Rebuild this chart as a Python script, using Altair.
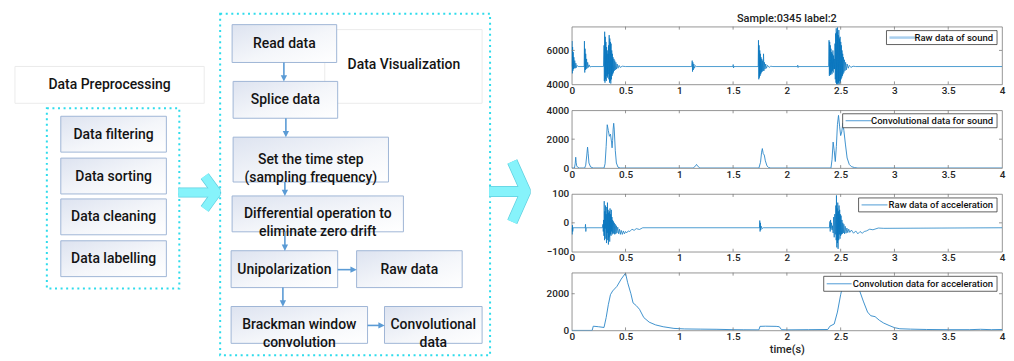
import altair as alt
import pandas as pd

# ---------------- content ----------------
pre_title = "Data Preprocessing"
pre_steps = ["Data filtering", "Data sorting", "Data cleaning", "Data labelling"]
vis_title = "Data Visualization"
vis_steps = ["Read data", "Splice data", "Set the time step\n(sampling frequency)",
             "Differential operation to\neliminate zero drift", "Unipolarization",
             "Raw data", "Brackman window\nconvolution", "Convolutional\ndata"]
plot_title = "Sample:0345 label:2"
series_names = ["Raw data of sound", "Convolutional data for sound",
                "Raw data of acceleration", "Convolution data for acceleration"]
x_tick_values = [0, 0.5, 1, 1.5, 2, 2.5, 3, 3.5, 4]
x_axis_title = "time(s)"

# raw sound (per burst)
snd_a_t = [0.000, 0.002, 0.005, 0.008, 0.011, 0.014, 0.017, 0.020, 0.024, 0.028, 0.033, 0.038, 0.044, 0.050, 0.060]
snd_a_v = [5050, 6550, 4650, 6200, 4800, 5900, 4900, 5600, 4950, 5400, 4950, 5250, 4990, 5120, 5050]
snd_b_t = [0.115, 0.118, 0.121, 0.124, 0.127, 0.130, 0.134, 0.138, 0.143, 0.148, 0.155, 0.162, 0.170, 0.180]
snd_b_v = [5050, 6550, 4700, 6100, 4850, 5800, 4900, 5500, 4950, 5300, 5000, 5150, 5020, 5050]
snd_c_t = [0.295, 0.300, 0.303, 0.306, 0.309, 0.312, 0.315, 0.318, 0.321, 0.324, 0.327, 0.330, 0.333, 0.336,
           0.339, 0.342, 0.345, 0.348, 0.351, 0.354, 0.357, 0.360, 0.363, 0.366, 0.369, 0.372, 0.375, 0.378,
           0.381, 0.384, 0.388, 0.392, 0.396, 0.400, 0.405, 0.410, 0.416, 0.422, 0.430, 0.440, 0.450, 0.470, 0.500]
snd_c_v = [5050, 6300, 4200, 7100, 4100, 6800, 4300, 6500, 4200, 6200, 4500, 6000, 4400, 5800,
           4600, 6300, 4300, 6900, 4100, 6700, 4200, 6500, 4050, 6400, 4300, 6000, 4500, 5800,
           4600, 5600, 4700, 5500, 4800, 5400, 4850, 5300, 4900, 5200, 4950, 5120, 5000, 5070, 5050]
snd_d_t = [1.115, 1.120, 1.123, 1.126, 1.130, 1.135, 1.140, 1.150, 1.160,
           1.498, 1.501, 1.504, 1.508]
snd_d_v = [5050, 5400, 4750, 5300, 4850, 5200, 4950, 5100, 5050,
           5050, 5170, 4970, 5050]
snd_e_t = [1.733, 1.736, 1.739, 1.742, 1.745, 1.748, 1.751, 1.754, 1.757, 1.760, 1.763, 1.767, 1.771,
           1.775, 1.779, 1.783, 1.787, 1.791, 1.797, 1.803, 1.810, 1.820, 1.835, 1.850, 1.870,
           2.098, 2.101, 2.104, 2.108]
snd_e_v = [5050, 6600, 4300, 6300, 4400, 6000, 4500, 5800, 4600, 5600, 4700, 5500, 4750,
           5400, 4800, 5800, 4800, 5300, 4900, 5200, 4950, 5120, 5000, 5070, 5050,
           5050, 5130, 4990, 5050]
snd_f_t = [2.388, 2.392, 2.395, 2.398, 2.401, 2.404, 2.407, 2.410, 2.413, 2.416, 2.419, 2.422, 2.425, 2.428,
           2.431, 2.434, 2.437, 2.440, 2.443, 2.447, 2.450, 2.453, 2.456, 2.459, 2.462, 2.465, 2.468, 2.471,
           2.474, 2.477, 2.480, 2.483, 2.486, 2.489, 2.492, 2.495, 2.498, 2.501, 2.504, 2.507, 2.510, 2.513,
           2.516, 2.519, 2.522, 2.526, 2.530, 2.535, 2.540, 2.546, 2.552, 2.560, 2.570, 2.580, 2.595, 2.615,
           2.640, 4.000]
snd_f_v = [5050, 6600, 4500, 6500, 4600, 6300, 4550, 6100, 4700, 5900, 4600, 5800, 4800, 6000,
           4700, 5700, 4900, 5500, 4900, 6400, 4300, 7000, 4100, 7300, 4000, 7100, 4050, 7350,
           3980, 6900, 4100, 7200, 4000, 6700, 4200, 6800, 4100, 6500, 4300, 6300, 4400, 6000,
           4500, 5800, 4600, 5600, 4700, 5450, 4800, 5300, 4850, 5200, 4950, 5120, 5000, 5070,
           5050, 5050]

# convolutional sound
snd_conv_t = [0, 0.025, 0.032, 0.037, 0.041, 0.046, 0.055, 0.07, 0.12, 0.13, 0.14, 0.147, 0.153, 0.16,
              0.175, 0.2, 0.3, 0.31, 0.32, 0.33, 0.34, 0.35, 0.36, 0.37, 0.375, 0.38, 0.385, 0.39, 0.395,
              0.405, 0.415, 0.43, 0.45, 1.13, 1.15, 1.16, 1.17, 1.19, 1.74, 1.755, 1.765, 1.772, 1.78,
              1.79, 1.80, 1.815, 1.83, 1.85, 2.41, 2.42, 2.43, 2.44, 2.45, 2.46, 2.47, 2.48, 2.49, 2.50,
              2.51, 2.52, 2.53, 2.545, 2.56, 2.58, 2.60, 2.63, 2.66, 4.0]
snd_conv_v = [0, 0, 300, 750, 400, 150, 60, 0, 0, 200, 900, 1450, 1000, 350,
              80, 0, 0, 300, 1500, 3000, 2600, 2200, 2350, 1800, 1400, 1900, 2700, 3100, 2700,
              1200, 350, 60, 0, 0, 150, 250, 150, 0, 0, 400, 1100, 1350, 1000,
              900, 500, 150, 40, 0, 0, 600, 1800, 1200, 450, 1500, 3000, 3650, 2900, 2250,
              2500, 3100, 2600, 1600, 700, 250, 100, 30, 0, 0]

# raw acceleration (per burst)
acc_a_t = [0.000, 0.003, 0.006, 0.009, 0.013, 0.125, 0.128, 0.131, 0.134]
acc_a_v = [-17, -40, -8, -30, -17, -17, -5, -30, -17]
acc_b_t = [0.285, 0.290, 0.293, 0.296, 0.299, 0.302, 0.305, 0.308, 0.311, 0.314, 0.317, 0.320, 0.323, 0.326,
           0.329, 0.332, 0.335, 0.338, 0.341, 0.344, 0.347, 0.350, 0.353, 0.356, 0.359, 0.362, 0.365, 0.368,
           0.371, 0.374, 0.377, 0.380, 0.384, 0.388, 0.392, 0.396, 0.400, 0.405, 0.410, 0.415, 0.420, 0.428,
           0.436, 0.444, 0.452, 0.460, 0.470, 0.480, 0.490, 0.500, 0.510, 0.525, 0.540, 0.560, 0.580, 0.600,
           0.630, 0.660]
acc_b_v = [-17, -5, -30, 10, -45, 75, -60, 40, -20, 60, -55, 30, -70, 55,
           -35, 70, -60, 45, -75, 35, -50, 40, -65, 50, -40, 30, -45, 45,
           -30, 20, -40, 10, -35, 5, -38, 0, -40, -5, -38, -10, -35, -15,
           -38, -22, -40, -26, -40, -28, -38, -30, -35, -28, -30, -22, -26, -20,
           -23, -17]
acc_c_t = [1.745, 1.748, 1.751, 1.754, 1.757, 1.762, 1.770, 1.780]
acc_c_v = [-17, 8, -30, 0, -25, -12, -20, -17]
acc_d_t = [2.395, 2.400, 2.403, 2.406, 2.410, 2.415, 2.420, 2.425, 2.430, 2.435, 2.440, 2.445, 2.450, 2.455,
           2.458, 2.461, 2.464, 2.467, 2.470, 2.473, 2.476, 2.479, 2.482, 2.485, 2.488, 2.491, 2.494, 2.497,
           2.500, 2.504, 2.508, 2.512, 2.516, 2.520, 2.525, 2.530, 2.536, 2.542, 2.550, 2.558, 2.566, 2.575,
           2.585, 2.600, 2.620, 2.640, 2.660, 2.680, 2.700, 2.720, 2.740, 2.770, 2.800, 2.850, 2.900, 4.000]
acc_d_v = [-17, 5, -30, 10, -20, 0, -25, -10, -35, 20, -50, 30, -40, 60,
           -60, 95, -85, 50, -70, 70, -90, 40, -60, 60, -40, 45, -55, 30,
           -45, 25, -40, 10, -38, 0, -35, -5, -38, -12, -36, -18, -34, -22,
           -33, -25, -36, -28, -38, -30, -36, -30, -28, -22, -24, -18, -19, -17]

# convolution acceleration
acc_conv_t = [0, 0.19, 0.2, 0.25, 0.3, 0.32, 0.34, 0.36, 0.38, 0.42, 0.46, 0.5, 0.52, 0.55, 0.57, 0.6,
              0.63, 0.67, 0.72, 0.78, 0.85, 0.95, 1.05, 1.2, 1.35, 1.5, 1.6, 1.74, 1.75, 1.8, 1.9, 1.93,
              1.95, 2.0, 2.2, 2.38, 2.40, 2.44, 2.47, 2.5, 2.53, 2.56, 2.6, 2.64, 2.68, 2.71, 2.75, 2.78,
              2.82, 2.86, 2.9, 2.95, 3.0, 3.05, 3.15, 3.3, 3.5, 3.7, 3.8, 3.9, 4.0]
acc_conv_v = [0, 0, 230, 200, 160, 700, 1400, 1950, 2150, 2400, 2800, 3120, 2600, 2000, 1500, 1350,
              1150, 700, 450, 300, 200, 110, 80, 70, 60, 40, 35, 30, 220, 230, 220, 200,
              40, 30, 40, 50, 230, 350, 1000, 1950, 2700, 2850, 2900, 2650, 2100, 1600, 1000, 800,
              750, 550, 400, 270, 150, 90, 70, 50, 40, 40, 60, 40, 50]

sound_raw_t = snd_a_t + snd_b_t + snd_c_t + snd_d_t + snd_e_t + snd_f_t
sound_raw_v = snd_a_v + snd_b_v + snd_c_v + snd_d_v + snd_e_v + snd_f_v
acc_raw_t = acc_a_t + acc_b_t + acc_c_t + acc_d_t
acc_raw_v = acc_a_v + acc_b_v + acc_c_v + acc_d_v

# ---------------- layout / style ----------------
FONT = "Roboto"
TXT = "#141414"
DOT = "#2fdcec"
LINK = "#5b9bd5"
ARROW_FILL = "#86f3fb"
ARROW_EDGE = "#5fcfdf"
BOX_EDGE = "#9fb5d6"
FRAME = "#7a7a7a"
LINE = "#0072BD"

FLOW_TOP = 25            # page y of the flow panel's origin (aligned with first plot top)
FLOW_W, FLOW_H = 533, 330
Y_EXT = 30
PW, PH = 432, 58

layout_anchor = (8, 8, 9, 9)      # invisible: fixes the space reserved above the first plot
pre_title_box = (14, 65, 204, 102)
pre_group_box = (46, 107, 179, 288)
pre_step_boxes = [(60, 115, 166, 151), (60, 157, 166, 193), (60, 198, 166, 234), (60, 240, 166, 276)]
vis_title_box = (325, 28, 483, 102)
vis_title_pos = (404.5, 64)
vis_group_box = (220, 12, 491, 355)
vis_step_boxes = [(232, 23, 337, 61), (233, 80, 338, 117), (233, 136, 389, 181), (232, 195, 404, 231),
                  (231, 250, 338, 287), (357, 250, 463, 287), (231, 306, 368, 343), (385, 306, 483, 343)]
links = [(284, 61, 284, 80, "d"), (286, 117, 286, 136, "d"), (285, 181, 285, 195, "d"),
         (285, 231, 285, 250, "d"), (283, 287, 283, 306, "d"), (338, 269, 357, 269, "r"),
         (368, 325, 385, 325, "r")]
# big block arrows: shaft (x0, x1, y), chevron points, thickness
big_arrows = [
    ((178, 213, 191.5), [(204.5, 175), (216.5, 191.5), (204.5, 208)], 8.5),
    ((490, 523, 190.5), [(513.3, 160.5), (526.8, 190.5), (513.3, 221)], 9.5),
]
# legends: box x0, x1, y0, y1 (panel px), sample x0, x1, sample colour, sample width
legend_geo = [
    (316, 427, 4, 18, 319, 346, "#a9cfee", 2.5),
    (272, 427, 3.5, 17.5, 275, 301, "#4f9bd6", 1),
    (288, 427, 4, 18, 291, 317, "#4f9bd6", 1),
    (253, 427, 3.7, 18.7, 256, 281, "#4f9bd6", 1),
]

FX = alt.Scale(domain=[8, 8 + FLOW_W], nice=False, zero=False)
FY = alt.Scale(domain=[FLOW_TOP, FLOW_TOP + FLOW_H], nice=False, zero=False, reverse=True)


def fx(f="x"):
    return alt.X(f + ":Q", scale=FX, axis=None)


def fy(f="y"):
    return alt.Y(f + ":Q", scale=FY, axis=None)


def box_df(boxes):
    return pd.DataFrame([{"x": a, "y": b, "x2": c, "y2": d} for a, b, c, d in boxes])


def rects(boxes, **mk):
    return alt.Chart(box_df(boxes)).mark_rect(**mk).encode(
        x=fx(), x2="x2:Q", y=fy(), y2="y2:Q")


grad = {"gradient": "linear", "x1": 0, "y1": 0, "x2": 1, "y2": 1,
        "stops": [{"offset": 0, "color": "#dde3f0"}, {"offset": 0.55, "color": "#f4f6fa"},
                  {"offset": 1, "color": "#ffffff"}]}

anchor = rects([layout_anchor], fill="transparent")
title_boxes = rects([pre_title_box, vis_title_box], fill="white", stroke="#ebebeb", strokeWidth=1)
group_boxes = rects([pre_group_box, vis_group_box], fill="transparent", stroke=DOT,
                    strokeWidth=2, strokeDash=[2, 3.6])
step_boxes = rects(pre_step_boxes + vis_step_boxes, fill=grad, stroke=BOX_EDGE, strokeWidth=1)

text_rows = [{"x": (pre_title_box[0] + pre_title_box[2]) / 2, "y": (pre_title_box[1] + pre_title_box[3]) / 2,
              "text": pre_title},
             {"x": vis_title_pos[0], "y": vis_title_pos[1], "text": vis_title}]
for lbl, b in zip(pre_steps + vis_steps, pre_step_boxes + vis_step_boxes):
    text_rows.append({"x": (b[0] + b[2]) / 2, "y": (b[1] + b[3]) / 2 + 0.5, "text": lbl})
texts = alt.Chart(pd.DataFrame(text_rows)).mark_text(
    font=FONT, fontSize=14, fontWeight=500, color=TXT, lineBreak="\n", lineHeight=18,
    align="center", baseline="middle").encode(x=fx(), y=fy(), text="text:N")

HEAD = 3
link_rows, head_d, head_r = [], [], []
for x0, y0, x1, y1, d in links:
    if d == "d":
        link_rows.append({"x": x0, "y": y0, "x2": x1, "y2": y1 - HEAD})
        head_d.append({"x": x1, "y": y1 - HEAD})
    else:
        link_rows.append({"x": x0, "y": y0, "x2": x1 - HEAD, "y2": y1})
        head_r.append({"x": x1 - HEAD, "y": y1})
link_lines = alt.Chart(pd.DataFrame(link_rows)).mark_rule(color=LINK, strokeWidth=1.6).encode(
    x=fx(), x2="x2:Q", y=fy(), y2="y2:Q")
heads_d = alt.Chart(pd.DataFrame(head_d)).mark_point(
    shape="M-1,-1L1,-1L0,1Z", filled=True, size=40, color=LINK, opacity=1).encode(x=fx(), y=fy())
heads_r = alt.Chart(pd.DataFrame(head_r)).mark_point(
    shape="M-1,-1L1,0L-1,1Z", filled=True, size=40, color=LINK, opacity=1).encode(x=fx(), y=fy())

arrow_layers = []
for k, ((sx0, sx1, sy), chev, w) in enumerate(big_arrows):
    shaft = pd.DataFrame({"x": [sx0, sx1], "y": [sy, sy], "o": [0, 1]})
    chevron = pd.DataFrame({"x": [p[0] for p in chev], "y": [p[1] for p in chev], "o": [0, 1, 2]})
    for df_ in (shaft, chevron):
        arrow_layers.append(alt.Chart(df_).mark_line(
            color=ARROW_EDGE, strokeWidth=w + 1.4, strokeJoin="bevel", strokeCap="butt").encode(
            x=fx(), y=fy(), order="o:Q"))
    for df_ in (shaft, chevron):
        arrow_layers.append(alt.Chart(df_).mark_line(
            color=ARROW_FILL, strokeWidth=w, strokeJoin="bevel", strokeCap="butt").encode(
            x=fx(), y=fy(), order="o:Q"))

flow = alt.layer(anchor, title_boxes, group_boxes, step_boxes, texts, link_lines, heads_d, heads_r,
                 *arrow_layers).properties(
    width=FLOW_W, height=FLOW_H, view=alt.ViewBackground(stroke="transparent"))

# ---------------- signal panels ----------------
one = pd.DataFrame({"a": [0]})


def panel(t, v, ydom, yvals, name, geo, lw, lcol, first=False, last=False):
    xs = alt.Scale(domain=[0, 4], nice=False, zero=False)
    ys = alt.Scale(domain=ydom, nice=False, zero=False)
    xa = dict(values=x_tick_values, format="~g", ticks=False, domain=False, grid=False,
              labelPadding=1, labelFlush=False)
    if last:
        xa.update(title=x_axis_title, titlePadding=2)
    else:
        xa.update(title="")
    x_axis = alt.Axis(**xa)
    y_axis = alt.Axis(values=yvals, format="d", ticks=False, domain=False, grid=False, labelPadding=3,
                      labelFlush=False, title="", minExtent=Y_EXT, maxExtent=Y_EXT)
    line = alt.Chart(pd.DataFrame({"t": t, "v": v})).mark_line(
        color=lcol, strokeWidth=lw, clip=True).encode(
        x=alt.X("t:Q", scale=xs, axis=x_axis),
        y=alt.Y("v:Q", scale=ys, axis=y_axis))
    inner_x = pd.DataFrame({"t": x_tick_values[1:-1]})
    inner_y = pd.DataFrame({"v": [y for y in yvals if ydom[0] < y < ydom[1]]})
    tk = dict(color=FRAME, strokeWidth=0.8)
    xb = alt.Chart(inner_x).mark_rule(**tk).encode(
        x=alt.X("t:Q", scale=xs, axis=x_axis), y=alt.value(PH), y2=alt.value(PH - 3))
    xt = alt.Chart(inner_x).mark_rule(**tk).encode(
        x=alt.X("t:Q", scale=xs, axis=x_axis), y=alt.value(0), y2=alt.value(3))
    yl = alt.Chart(inner_y).mark_rule(**tk).encode(
        y=alt.Y("v:Q", scale=ys, axis=y_axis), x=alt.value(0), x2=alt.value(3))
    yr = alt.Chart(inner_y).mark_rule(**tk).encode(
        y=alt.Y("v:Q", scale=ys, axis=y_axis), x=alt.value(PW - 3), x2=alt.value(PW))
    bx0, bx1, by0, by1, sx0, sx1, scol, sw = geo
    ym = (by0 + by1) / 2
    lg_box = alt.Chart(one).mark_rect(fill="white", stroke="#3a3a3a", strokeWidth=0.8).encode(
        x=alt.value(bx0), x2=alt.value(bx1), y=alt.value(by0), y2=alt.value(by1))
    lg_line = alt.Chart(one).mark_rule(color=scol, strokeWidth=sw).encode(
        x=alt.value(sx0), x2=alt.value(sx1), y=alt.value(ym))
    lg_text = alt.Chart(one).mark_text(
        text=name, font=FONT, fontSize=9.5, fontWeight=500, color="#111", align="right",
        baseline="middle").encode(x=alt.value(bx1 - 4), y=alt.value(ym + 0.5))
    props = dict(width=PW, height=PH, view=alt.ViewBackground(stroke=FRAME, strokeWidth=0.8))
    if first:
        props["title"] = alt.Title(plot_title, font=FONT, fontSize=11, fontWeight=500, color="#222",
                                   offset=2, anchor="middle")
    return alt.layer(line, xb, xt, yl, yr, lg_box, lg_line, lg_text).properties(**props)


p1 = panel(sound_raw_t, sound_raw_v, [4000, 7400], [4000, 6000], series_names[0], legend_geo[0],
           0.7, LINE, first=True)
p2 = panel(snd_conv_t, snd_conv_v, [0, 4000], [0, 2000, 4000], series_names[1], legend_geo[1],
           0.9, "#2a86c8")
p3 = panel(acc_raw_t, acc_raw_v, [-100, 100], [-100, 0, 100], series_names[2], legend_geo[2],
           0.7, LINE)
p4 = panel(acc_conv_t, acc_conv_v, [0, 3150], [0, 2000], series_names[3], legend_geo[3],
           0.9, "#2a86c8", last=True)

signals = alt.vconcat(p1, p2, p3, p4, spacing=8)

chart = alt.hconcat(flow, signals, spacing=0).properties(padding=0).configure_axis(
    labelFont=FONT, titleFont=FONT, labelFontSize=10, labelColor="#262626", labelFontWeight=500,
    titleColor="#262626", titleFontSize=11, titleFontWeight=500)

chart.save("out.html", embed_options={"renderer": "svg", "actions": False})
